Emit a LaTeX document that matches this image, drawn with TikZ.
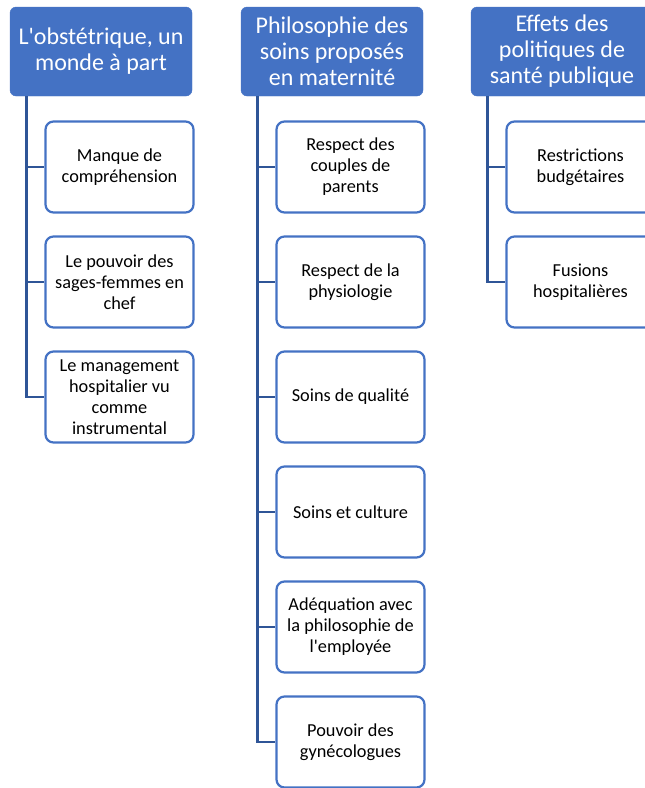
\documentclass[tikz,border=0pt]{standalone}
\usepackage{fontspec}
\setmainfont{Carlito}
\definecolor{hdrblue}{HTML}{4472C4}
\definecolor{linkblue}{HTML}{2F5597}
\tikzset{
  header/.style={draw=hdrblue, fill=hdrblue, rounded corners=6pt, minimum width=182pt, minimum height=89pt, align=center, text=white, font=\fontsize{24}{26}\selectfont},
  item/.style={draw=hdrblue, fill=white, line width=2.2pt, rounded corners=8pt, minimum width=148pt, minimum height=91pt, align=center, font=\fontsize{18.3}{21}\selectfont},
  link/.style={draw=linkblue, line width=2.8pt}
}
\begin{document}
\begin{tikzpicture}
\useasboundingbox (0,0) rectangle (645pt,-788pt);
\clip (0,0) rectangle (645pt,-788pt);
% headers
\node (h1)[header] at (101pt,-51.5pt) {L\textquotesingle obstétrique, un\\monde à part};
\node (h2)[header, node distance=231pt, right of=h1] {Philosophie des\\soins proposés\\en maternité};
\node (h3)[header, node distance=230pt, right of=h2] {Effets des\\politiques de\\santé publique};
% first column
\node (a1)[item, node distance=115.5pt, below of=h1, xshift=18.5pt] {Manque de\\compréhension};
\node (a2)[item, node distance=115pt, below of=a1] {Le pouvoir des\\sages-femmes en\\chef};
\node (a3)[item, node distance=115pt, below of=a2] {Le management\\hospitalier vu\\comme\\instrumental};
% second column
\node (b1)[item, node distance=115.5pt, below of=h2, xshift=18.5pt] {Respect des\\couples de\\parents};
\node (b2)[item, node distance=115pt, below of=b1] {Respect de la\\physiologie};
\node (b3)[item, node distance=115pt, below of=b2] {Soins de qualité};
\node (b4)[item, node distance=115pt, below of=b3] {Soins et culture};
\node (b5)[item, node distance=115pt, below of=b4] {Adéquation avec\\la philosophie de\\l\textquotesingle employée};
\node (b6)[item, node distance=115pt, below of=b5] {Pouvoir des\\gynécologues};
% third column
\node (c1)[item, node distance=115.5pt, below of=h3, xshift=18.5pt] {Restrictions\\budgétaires};
\node (c2)[item, node distance=115pt, below of=c1] {Fusions\\hospitalières};
% links
\coordinate (ta) at ([xshift=17pt]h1.south west);
\coordinate (tb) at ([xshift=17pt]h2.south west);
\coordinate (tc) at ([xshift=17pt]h3.south west);
\draw[link] (ta) |- (a1.west);
\draw[link] (ta) |- (a2.west);
\draw[link] (ta) |- (a3.west);
\draw[link] (tb) |- (b1.west);
\draw[link] (tb) |- (b2.west);
\draw[link] (tb) |- (b3.west);
\draw[link] (tb) |- (b4.west);
\draw[link] (tb) |- (b5.west);
\draw[link] (tb) |- (b6.west);
\draw[link] (tc) |- (c1.west);
\draw[link] (tc) |- (c2.west);
\end{tikzpicture}
\end{document}
